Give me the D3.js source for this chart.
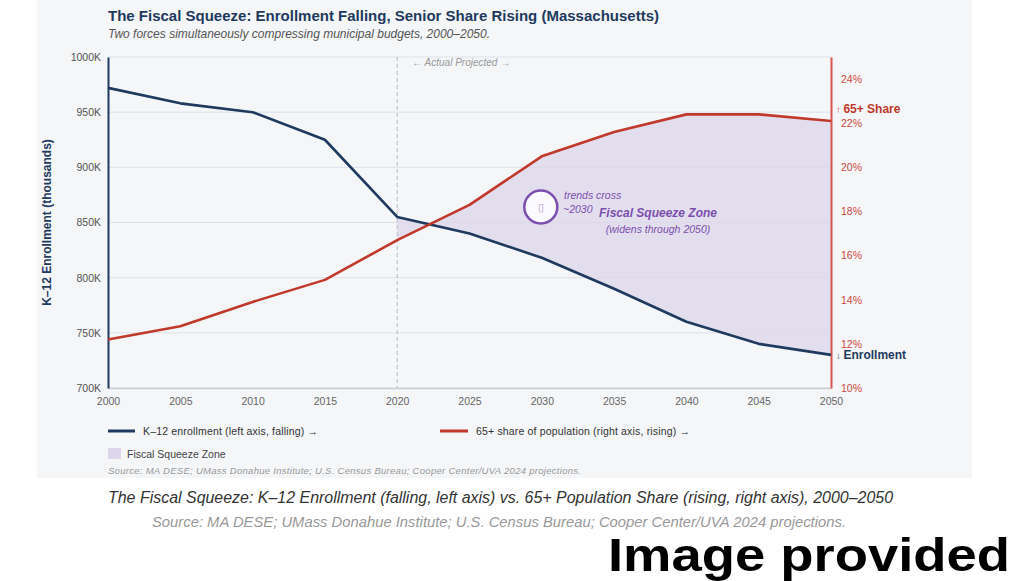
<!DOCTYPE html>
<html><head><meta charset="utf-8">
<script src="https://cdn.jsdelivr.net/npm/d3@7"></script>
<style>
html,body{margin:0;padding:0;background:#fff;}
svg{display:block;}
text{font-family:"Liberation Sans",Arial,sans-serif;}
</style></head>
<body>
<svg id="c" width="1033" height="581"></svg>
<script>
const years = [2000,2005,2010,2015,2020,2025,2030,2035,2040,2045,2050];
const enrollment = [972,958,950,925,855,840,818,790,760,740,730];
const seniorShare = [12.2,12.8,13.9,14.9,16.7,18.3,20.5,21.6,22.4,22.4,22.1];
const leftTicks = [700,750,800,850,900,950,1000];
const rightTicks = [10,12,14,16,18,20,22,24];
const xTicks = years;
const projStart = 2020;

const svg = d3.select("#c");
const navy = "#1f3a5f", red = "#c0392b", purple = "#7b4fae";

svg.append("rect").attr("x",37).attr("y",0).attr("width",935).attr("height",478).attr("fill","#f4f6f8");

const m = {l:108, r:831, t:57, b:388};
const x = d3.scaleLinear().domain([2000,2050]).range([m.l,m.r]);
const yL = d3.scaleLinear().domain([700,1000]).range([m.b,m.t]);
const yR = d3.scaleLinear().domain([10,25]).range([m.b,m.t]);

// grid
svg.append("g").selectAll("line").data(leftTicks).join("line")
  .attr("x1",m.l).attr("x2",m.r).attr("y1",d=>yL(d)).attr("y2",d=>yL(d))
  .attr("stroke","#dde1e8").attr("stroke-width",1);

// squeeze zone area
const data = years.map((yr,i)=>({yr, e:enrollment[i], s:seniorShare[i]}));
const zone = data.filter(d=>d.yr>=projStart);
const curve = d3.curveLinear;
svg.append("path").datum(zone)
  .attr("d", d3.area().x(d=>x(d.yr)).y0(d=>yL(d.e)).y1(d=>yR(d.s)).curve(curve))
  .attr("fill","#ddd5ea").attr("opacity",0.75);

// projection divider
svg.append("line").attr("x1",x(projStart)).attr("x2",x(projStart)).attr("y1",m.t).attr("y2",m.b)
  .attr("stroke","#b8bcc4").attr("stroke-width",1).attr("stroke-dasharray","4,3");
svg.append("text").attr("x",x(projStart)+15).attr("y",66).attr("font-size",10).attr("font-style","italic")
  .attr("fill","#999").text("← Actual Projected →");

// bottom axis
const gx = svg.append("g").attr("transform",`translate(0,${m.b})`)
  .call(d3.axisBottom(x).tickValues(xTicks).tickFormat(d3.format("d")).tickSize(0).tickPadding(10));
gx.select(".domain").attr("stroke","#c9cdd4").attr("stroke-width",1.5);
gx.selectAll("text").attr("font-size",10.5).attr("fill","#666").attr("font-family","Liberation Sans,Arial,sans-serif");

// left axis
const gl = svg.append("g").attr("transform",`translate(${m.l},0)`)
  .call(d3.axisLeft(yL).tickValues(leftTicks).tickFormat(d=>d+"K").tickSize(0).tickPadding(7));
gl.select(".domain").attr("stroke",navy).attr("stroke-width",2);
gl.selectAll("text").attr("font-size",10.5).attr("fill","#555").attr("font-family","Liberation Sans,Arial,sans-serif");

// right axis
const gr = svg.append("g").attr("transform",`translate(${m.r},0)`)
  .call(d3.axisRight(yR).tickValues(rightTicks).tickFormat(d=>d+"%").tickSize(0).tickPadding(10));
gr.select(".domain").attr("stroke","#d9534f").attr("stroke-width",2);
gr.selectAll("text").attr("font-size",10.5).attr("fill","#d0493f").attr("font-family","Liberation Sans,Arial,sans-serif");

// lines
svg.append("path").datum(data).attr("d",d3.line().x(d=>x(d.yr)).y(d=>yL(d.e)).curve(curve))
  .attr("fill","none").attr("stroke",navy).attr("stroke-width",2.6).attr("stroke-linejoin","round");
svg.append("path").datum(data).attr("d",d3.line().x(d=>x(d.yr)).y(d=>yR(d.s)).curve(curve))
  .attr("fill","none").attr("stroke",red).attr("stroke-width",2.6).attr("stroke-linejoin","round");

// end labels
const last = data[data.length-1];
const t1 = svg.append("text").attr("x",m.r+5).attr("y",yR(22.5)+1).attr("font-size",12).attr("font-weight","bold").attr("fill",red);
t1.append("tspan").attr("font-size",9.5).attr("font-weight","normal").attr("fill","#d9534f").text("↑ ");
t1.append("tspan").text("65+ Share");
const t2 = svg.append("text").attr("x",m.r+5).attr("y",yL(last.e)+4).attr("font-size",12).attr("font-weight","bold").attr("fill",navy);
t2.append("tspan").attr("font-size",9.5).attr("font-weight","normal").attr("fill","#555").text("↓ ");
t2.append("tspan").text("Enrollment");

// y axis title
svg.append("text").attr("transform",`translate(51,${(m.t+m.b)/2}) rotate(-90)`).attr("text-anchor","middle")
  .attr("font-size",12).attr("font-weight","bold").attr("fill",navy).text("K–12 Enrollment (thousands)");

// annotation
const cx = x(2030)-1, cy = 207;
svg.append("circle").attr("cx",cx).attr("cy",cy).attr("r",16.5).attr("fill","#fbfafd").attr("stroke",purple).attr("stroke-width",2.5);
svg.append("text").attr("x",cx).attr("y",cy+4).attr("text-anchor","middle").attr("font-size",11).attr("fill","#b49fd0").attr("font-family","DejaVu Sans").text("▯");
svg.append("text").attr("x",564).attr("y",199).attr("font-size",10.5).attr("font-style","italic").attr("fill",purple).text("trends cross");
svg.append("text").attr("x",563).attr("y",213).attr("font-size",10.5).attr("font-style","italic").attr("fill",purple).text("~2030");
svg.append("text").attr("x",599).attr("y",217).attr("font-size",12).attr("font-style","italic").attr("font-weight","bold").attr("fill",purple).text("Fiscal Squeeze Zone");
svg.append("text").attr("x",658).attr("y",233).attr("text-anchor","middle").attr("font-size",10.5).attr("font-style","italic").attr("fill",purple).text("(widens through 2050)");

// title
svg.append("text").attr("x",108).attr("y",21).attr("font-size",15).attr("font-weight","bold").attr("fill",navy)
  .text("The Fiscal Squeeze: Enrollment Falling, Senior Share Rising (Massachusetts)");
svg.append("text").attr("x",108).attr("y",38).attr("font-size",12).attr("font-style","italic").attr("fill","#555")
  .text("Two forces simultaneously compressing municipal budgets, 2000–2050.");

// legend
svg.append("line").attr("x1",108).attr("x2",135).attr("y1",431).attr("y2",431).attr("stroke",navy).attr("stroke-width",3);
svg.append("text").attr("x",143).attr("y",435).attr("font-size",10.5).attr("fill","#333").attr("textLength",175)
  .text("K–12 enrollment (left axis, falling) →");
svg.append("line").attr("x1",440).attr("x2",468).attr("y1",431).attr("y2",431).attr("stroke",red).attr("stroke-width",3);
svg.append("text").attr("x",476).attr("y",435).attr("font-size",10.5).attr("fill","#333").attr("textLength",214)
  .text("65+ share of population (right axis, rising) →");
svg.append("rect").attr("x",108).attr("y",448).attr("width",13).attr("height",11).attr("fill","#ddd5ea");
svg.append("text").attr("x",127).attr("y",458).attr("font-size",10.5).attr("fill","#444").text("Fiscal Squeeze Zone");
svg.append("text").attr("x",108).attr("y",474).attr("font-size",9.5).attr("font-style","italic").attr("fill","#999").attr("textLength",473)
  .text("Source: MA DESE; UMass Donahue Institute; U.S. Census Bureau; Cooper Center/UVA 2024 projections.");

// caption
svg.append("text").attr("x",108).attr("y",503).attr("font-size",16).attr("font-style","italic").attr("fill","#333")
  .attr("font-family","'Open Sans', sans-serif").attr("textLength",785).attr("lengthAdjust","spacingAndGlyphs")
  .text("The Fiscal Squeeze: K–12 Enrollment (falling, left axis) vs. 65+ Population Share (rising, right axis), 2000–2050");
svg.append("text").attr("x",152).attr("y",527).attr("font-size",14).attr("font-style","italic").attr("fill","#999")
  .attr("font-family","'Open Sans', sans-serif").attr("textLength",694).attr("lengthAdjust","spacingAndGlyphs")
  .text("Source: MA DESE; UMass Donahue Institute; U.S. Census Bureau; Cooper Center/UVA 2024 projections.");
svg.append("text").attr("x",608).attr("y",571).attr("font-size",46).attr("font-weight","bold").attr("fill","#000")
  .attr("font-family","DejaVu Sans").attr("textLength",402).attr("lengthAdjust","spacingAndGlyphs")
  .text("Image provided");
</script>
</body></html>
